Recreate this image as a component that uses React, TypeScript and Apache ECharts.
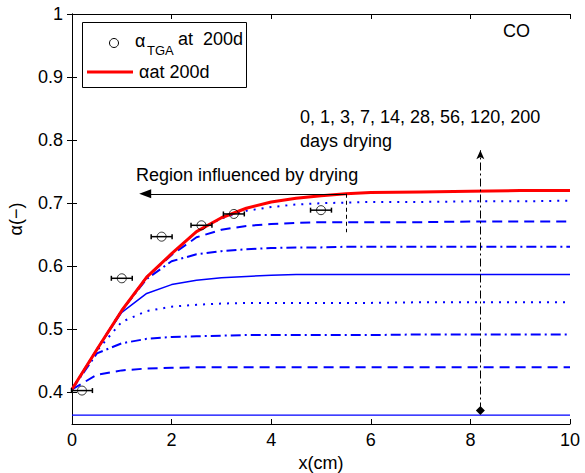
import React, { useEffect, useRef } from "react";
import * as echarts from "echarts";

const xs = [0, 0.5, 1, 1.5, 2, 2.5, 3, 3.5, 4, 4.5, 5, 5.5, 6, 7, 8, 9, 10];

const day0 = [0.364, 0.364, 0.364, 0.364, 0.364, 0.364, 0.364, 0.364, 0.364, 0.364, 0.364, 0.364, 0.364, 0.364, 0.364, 0.364, 0.364];
const day1 = [0.405, 0.428, 0.435, 0.438, 0.439, 0.44, 0.44, 0.44, 0.44, 0.44, 0.44, 0.44, 0.44, 0.44, 0.44, 0.44, 0.44];
const day3 = [0.405, 0.462, 0.478, 0.485, 0.488, 0.489, 0.49, 0.491, 0.491, 0.491, 0.491, 0.491, 0.491, 0.492, 0.492, 0.492, 0.492];
const day7 = [0.405, 0.466, 0.512, 0.529, 0.536, 0.539, 0.541, 0.542, 0.542, 0.542, 0.542, 0.542, 0.542, 0.543, 0.543, 0.543, 0.543];
const day14 = [0.405, 0.468, 0.527, 0.557, 0.571, 0.578, 0.582, 0.584, 0.586, 0.587, 0.587, 0.587, 0.587, 0.587, 0.587, 0.587, 0.587];
const day28 = [0.405, 0.468, 0.53, 0.58, 0.608, 0.619, 0.624, 0.627, 0.629, 0.63, 0.63, 0.631, 0.631, 0.631, 0.631, 0.631, 0.631];
const day56 = [0.405, 0.468, 0.53, 0.583, 0.618, 0.646, 0.658, 0.664, 0.667, 0.669, 0.67, 0.67, 0.67, 0.67, 0.671, 0.671, 0.671];
const day120 = [0.405, 0.468, 0.53, 0.583, 0.62, 0.655, 0.676, 0.688, 0.694, 0.698, 0.7, 0.701, 0.702, 0.702, 0.703, 0.703, 0.704];
const day200 = [0.405, 0.468, 0.53, 0.583, 0.62, 0.655, 0.677, 0.692, 0.702, 0.708, 0.712, 0.715, 0.717, 0.718, 0.719, 0.72, 0.72];

const tgaX = [0.2, 1.0, 1.8, 2.6, 3.25, 5.0];
const tgaY = [0.403, 0.581, 0.647, 0.665, 0.683, 0.689];
const tgaErr = [0.21, 0.21, 0.21, 0.21, 0.21, 0.21];

const xTicks = [0, 2, 4, 6, 8, 10];
const yTicks = [0.4, 0.5, 0.6, 0.7, 0.8, 0.9, 1];

const FONT = "'Liberation Sans', Arial, Helvetica, sans-serif";
const BLUE = "#0000ff";

function pairs(ys: number[]) {
  return xs.map((x, i) => [x, ys[i]]);
}

export default function App() {
  const ref = useRef<HTMLDivElement>(null);
  useEffect(() => {
    if (!ref.current) return;
    const chart = echarts.init(ref.current, null, { renderer: "svg" });

    const blueLine = (name: string, ys: number[], type: any, width: number) => ({
      name,
      type: "line",
      data: pairs(ys),
      showSymbol: false,
      symbol: "none",
      lineStyle: { color: BLUE, width, type },
      z: 2,
      silent: true,
    });

    const DASH = [10, 6];
    const DASHDOT = [10, 4, 2, 4];
    const DOT = [2, 6];

    const option: any = {
      animation: false,
      backgroundColor: "#ffffff",
      grid: { left: 72, right: 15, top: 14, bottom: 49, containLabel: false, outerBoundsMode: "none" },
      xAxis: [
        {
          type: "value",
          min: 0,
          max: 10,
          interval: 2,
          position: "bottom",
          axisLine: { show: true, lineStyle: { color: "#000", width: 1 } },
          axisTick: { show: true, inside: true, length: 5, lineStyle: { color: "#000" } },
          axisLabel: {
            color: "#000",
            fontFamily: FONT,
            fontSize: 18,
            margin: 7,
            customValues: xTicks,
          },
          splitLine: { show: false },
          name: "x(cm)",
          nameLocation: "middle",
          nameGap: 30,
          nameTextStyle: { color: "#000", fontFamily: FONT, fontSize: 18 },
        },
        {
          type: "value",
          min: 0,
          max: 10,
          interval: 2,
          position: "top",
          axisLine: { show: true, lineStyle: { color: "#000", width: 1 } },
          axisTick: { show: true, inside: true, length: 5, lineStyle: { color: "#000" } },
          axisLabel: { show: false },
          splitLine: { show: false },
        },
      ],
      yAxis: [
        {
          type: "value",
          min: 0.35,
          max: 1,
          position: "left",
          axisLine: { show: true, lineStyle: { color: "#000", width: 1 } },
          axisTick: { show: true, inside: true, length: 5, lineStyle: { color: "#000" }, customValues: yTicks },
          axisLabel: {
            color: "#000",
            fontFamily: FONT,
            fontSize: 18,
            margin: 9,
            customValues: yTicks,
            formatter: (v: number) => String(Math.round(v * 10) / 10),
          },
          splitLine: { show: false },
          name: "α(−)",
          nameLocation: "middle",
          nameGap: 47,
          nameRotate: 90,
          nameTextStyle: { color: "#000", fontFamily: FONT, fontSize: 18 },
        },
        {
          type: "value",
          min: 0.35,
          max: 1,
          position: "right",
          axisLine: { show: true, lineStyle: { color: "#000", width: 1 } },
          axisTick: { show: true, inside: true, length: 5, lineStyle: { color: "#000" }, customValues: yTicks },
          axisLabel: { show: false },
          splitLine: { show: false },
        },
      ],
      series: [
        blueLine("0 days", day0, "solid", 1.3),
        blueLine("1 day", day1, DASH, 2),
        blueLine("3 days", day3, DASHDOT, 2),
        blueLine("7 days", day7, DOT, 2),
        blueLine("14 days", day14, "solid", 1.5),
        blueLine("28 days", day28, DASHDOT, 2),
        blueLine("56 days", day56, DASH, 2),
        blueLine("120 days", day120, DOT, 2),
        {
          name: "αat 200d",
          type: "line",
          data: pairs(day200),
          showSymbol: false,
          symbol: "none",
          lineStyle: { color: "#ff0000", width: 3 },
          z: 3,
          silent: true,
        },
        {
          name: "err",
          type: "custom",
          data: tgaX.map((x, i) => [x, tgaY[i], tgaErr[i]]),
          encode: { x: 0, y: 1 },
          z: 4,
          silent: true,
          renderItem: (params: any, api: any) => {
            const x = api.value(0);
            const y = api.value(1);
            const e = api.value(2);
            const p1 = api.coord([x - e, y]);
            const p2 = api.coord([x + e, y]);
            const st = { stroke: "#000", lineWidth: 1.5 };
            return {
              type: "group",
              children: [
                { type: "line", shape: { x1: p1[0], y1: p1[1], x2: p2[0], y2: p2[1] }, style: st },
                { type: "line", shape: { x1: p1[0], y1: p1[1] - 2.5, x2: p1[0], y2: p1[1] + 2.5 }, style: st },
                { type: "line", shape: { x1: p2[0], y1: p2[1] - 2.5, x2: p2[0], y2: p2[1] + 2.5 }, style: st },
              ],
            };
          },
        },
        {
          name: "αTGA at 200d",
          type: "scatter",
          data: tgaX.map((x, i) => [x, tgaY[i]]),
          symbol: "circle",
          symbolSize: 9,
          itemStyle: { color: "rgba(0,0,0,0)", borderColor: "#000", borderWidth: 1 },
          z: 5,
          silent: true,
        },
        {
          name: "annotations",
          type: "line",
          data: [],
          silent: true,
          z: 6,
          markLine: {
            silent: true,
            animation: false,
            label: { show: false },
            data: [
              [
                { coord: [5.5, 0.715], symbol: "none", lineStyle: { color: "#000", width: 1, type: "solid" } },
                { coord: [1.47, 0.715], symbol: "triangle", symbolSize: [9, 12] },
              ],
              [
                { coord: [8.2, 0.3714], symbol: "diamond", symbolSize: 9, lineStyle: { color: "#000", width: 1, type: [8, 3, 2, 3] } },
                { coord: [8.2, 0.784], symbol: "arrow", symbolSize: [6, 9] },
              ],
              [
                { coord: [5.5, 0.715], symbol: "none", lineStyle: { color: "#000", width: 1, type: [4, 3] } },
                { coord: [5.5, 0.654], symbol: "none" },
              ],
            ],
            itemStyle: { color: "#000" },
            lineStyle: { color: "#000", width: 1 },
          },
        },
      ],
      graphic: [
        { type: "text", left: 503, top: 22, style: { text: "CO", font: `18px ${FONT}`, fill: "#000" } },
        { type: "text", left: 300, top: 108, style: { text: "0, 1, 3, 7, 14, 28, 56, 120, 200", font: `18px ${FONT}`, fill: "#000" } },
        { type: "text", left: 300, top: 132, style: { text: "days drying", font: `18px ${FONT}`, fill: "#000" } },
        { type: "text", left: 136, top: 166, style: { text: "Region influenced by drying", font: `18px ${FONT}`, fill: "#000" } },
        {
          type: "rect",
          shape: { x: 82.5, y: 22.5, width: 164, height: 65 },
          style: { fill: "#fff", stroke: "#000", lineWidth: 1 },
          z: 10,
        },
        { type: "circle", shape: { cx: 114, cy: 43, r: 4.5 }, style: { fill: "none", stroke: "#000", lineWidth: 1 }, z: 11 },
        { type: "text", x: 135, y: 41, style: { text: "α", font: `18px ${FONT}`, fill: "#000", verticalAlign: "middle" }, z: 11 },
        { type: "text", x: 147, y: 50, style: { text: "TGA", font: `13px ${FONT}`, fill: "#000", verticalAlign: "middle" }, z: 11 },
        { type: "text", x: 178, y: 39, style: { text: "at  200d", font: `18px ${FONT}`, fill: "#000", verticalAlign: "middle" }, z: 11 },
        { type: "line", shape: { x1: 87, y1: 72, x2: 133, y2: 72 }, style: { stroke: "#ff0000", lineWidth: 3 }, z: 11 },
        { type: "text", x: 139, y: 71.5, style: { text: "αat 200d", font: `18px ${FONT}`, fill: "#000", verticalAlign: "middle" }, z: 11 },
      ],
    };

    chart.setOption(option);
    return () => chart.dispose();
  }, []);

  return (
    <div
      ref={ref}
      style={{ position: "fixed", left: 0, top: 0, width: 585, height: 473, background: "#fff" }}
    />
  );
}
